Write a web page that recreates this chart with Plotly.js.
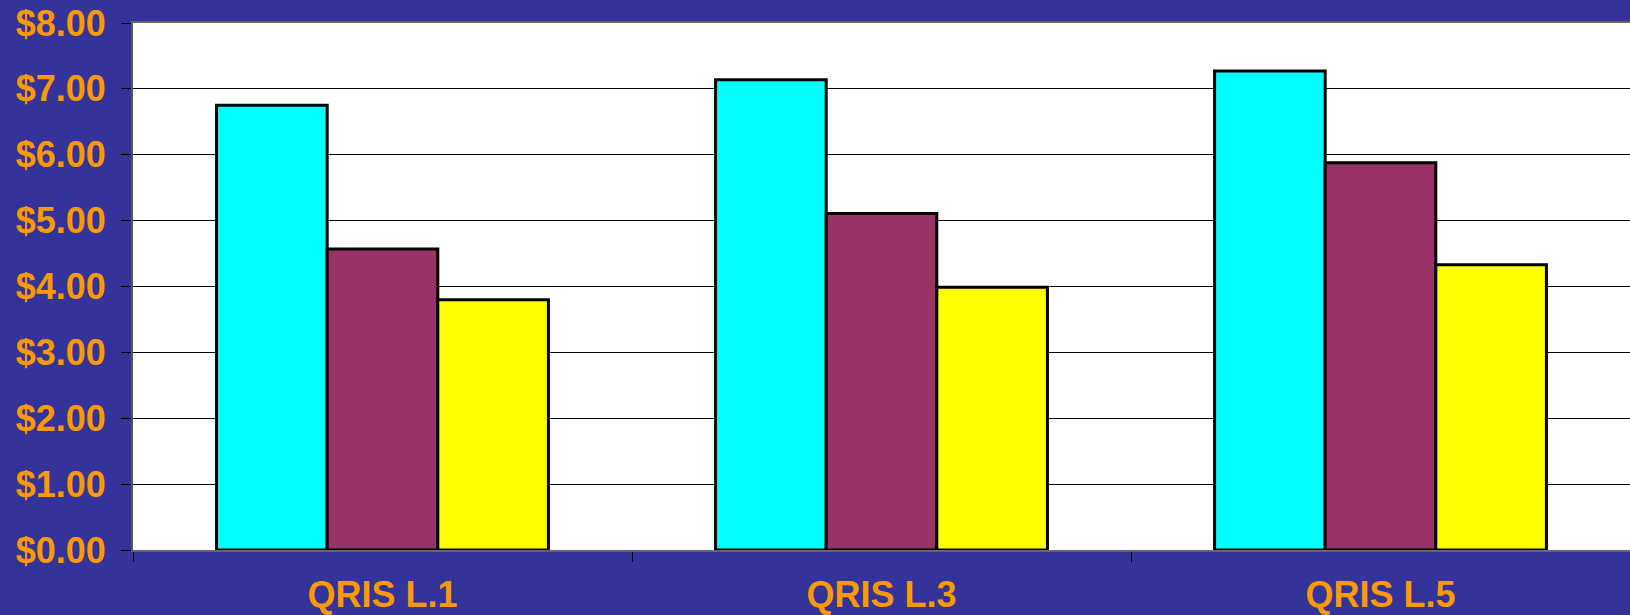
<!DOCTYPE html>
<html>
<head>
<meta charset="utf-8">
<script src="https://cdn.plot.ly/plotly-3.0.1.min.js"></script>
<style>
  html, body { margin: 0; padding: 0; background: #333399; }
  #chart { width: 1630px; height: 615px; }
</style>
</head>
<body>
<div id="chart"></div>
<script>
// Hourly rates by QRIS level, three series per level
const categories = ['QRIS L.1', 'QRIS L.3', 'QRIS L.5'];
const seriesA = [6.75, 7.14, 7.27];
const seriesB = [4.57, 5.11, 5.88];
const seriesC = [3.80, 3.99, 4.33];
const yTickValues = [0, 1, 2, 3, 4, 5, 6, 7, 8];
const yTickLabels = ['$0.00', '$1.00', '$2.00', '$3.00', '$4.00', '$5.00', '$6.00', '$7.00', '$8.00'];

const barLine = { color: '#000000', width: 3 };

const traces = [
  { type: 'bar', x: categories, y: seriesA, marker: { color: '#00FFFF', line: barLine }, hoverinfo: 'y' },
  { type: 'bar', x: categories, y: seriesB, marker: { color: '#993366', line: barLine }, hoverinfo: 'y' },
  { type: 'bar', x: categories, y: seriesC, marker: { color: '#FFFF00', line: barLine }, hoverinfo: 'y' }
];

const labelFont = { family: 'Liberation Sans, Arial, sans-serif', size: 36, color: '#FF9900', weight: 'bold' };

const layout = {
  width: 1630,
  height: 615,
  margin: { l: 133, r: 0, t: 23, b: 65, pad: 0 },
  paper_bgcolor: '#333399',
  plot_bgcolor: '#FFFFFF',
  showlegend: false,
  barmode: 'group',
  bargap: 0.335,
  bargroupgap: 0,
  xaxis: {
    type: 'category',
    range: [-0.5, 2.5],
    tickson: 'boundaries',
    ticks: 'outside',
    ticklen: 10,
    tickcolor: '#000000',
    tickwidth: 1,
    showgrid: false,
    showline: true,
    linecolor: '#666666',
    linewidth: 2,
    mirror: true,
    tickfont: labelFont,
    ticklabelstandoff: 12
  },
  yaxis: {
    range: [0, 8],
    tickvals: yTickValues,
    ticktext: yTickLabels,
    ticks: 'outside',
    ticklen: 10,
    tickcolor: '#000000',
    tickwidth: 1,
    showgrid: true,
    gridcolor: '#000000',
    gridwidth: 1,
    zeroline: false,
    showline: true,
    linecolor: '#555555',
    linewidth: 2,
    tickfont: labelFont,
    ticklabelstandoff: 8
  }
};

Plotly.newPlot('chart', traces, layout, { displayModeBar: false, staticPlot: true });
</script>
</body>
</html>
